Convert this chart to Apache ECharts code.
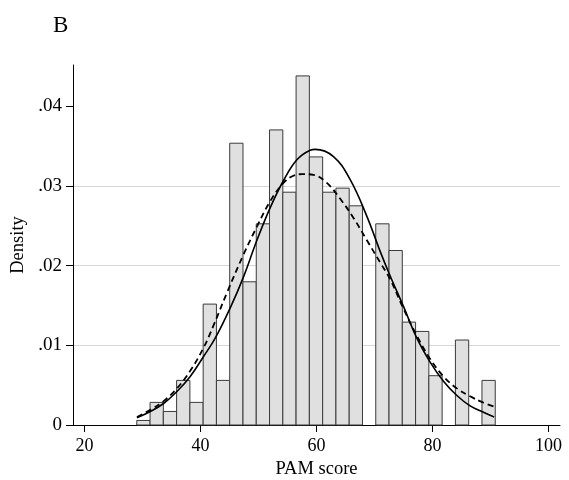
<!DOCTYPE html>
<html>
<head>
<meta charset="utf-8">
<script src="https://cdn.jsdelivr.net/npm/echarts@6/dist/echarts.min.js"></script>
<style>
html,body{margin:0;padding:0;background:#fff;}
#chart{width:569px;height:480px;}
</style>
</head>
<body>
<div id="chart"></div>
<script>
// Histogram bins (PAM score), densities
var binStart = 29.0;
var binWidth = 2.29;
var binDensity = [0.00057, 0.00284, 0.0017, 0.0056, 0.00284, 0.01518, 0.0056, 0.03538, 0.01798,
  0.02526, 0.03705, 0.02923, 0.04383, 0.03366, 0.02923, 0.02974, 0.02752, 0, 0.02526,
  0.02191, 0.01292, 0.01175, 0.00619, 0, 0.01067, 0, 0.0056];

// Solid curve
var solidX = [29.03, 31.33, 33.62, 35.93, 38.22, 40.52, 42.53, 45.12, 47.41, 49.72, 52.02, 54.31,
  56.62, 58.91, 59.78, 62.93, 65.81, 68.69, 70.98, 72.71, 75.0, 77.31, 79.6, 81.9, 84.21, 86.5, 88.79, 90.64];
var solidY = [0.0009, 0.0017, 0.0027, 0.0042, 0.0061, 0.0086, 0.0109, 0.0147, 0.0186, 0.0232, 0.0273, 0.0307,
  0.0333, 0.0345, 0.0346, 0.0337, 0.0308, 0.0262, 0.0218, 0.0187, 0.0149, 0.0109, 0.0079, 0.0055, 0.0037, 0.0024, 0.0016, 0.0010];

// Dashed curve
var dashX = [29.03, 31.33, 33.62, 35.93, 38.22, 40.52, 42.24, 44.55, 47.41, 49.72, 52.02, 54.31, 56.03,
  57.6, 59.48, 61.79, 64.09, 66.38, 68.69, 70.98, 72.71, 75.0, 77.31, 79.6, 81.9, 84.21, 86.5, 88.79, 90.64];
var dashY = [0.0010, 0.0019, 0.0030, 0.0046, 0.0068, 0.0097, 0.0125, 0.0166, 0.0214, 0.0249, 0.0281, 0.0304, 0.0313,
  0.0315, 0.0314, 0.0304, 0.0284, 0.0260, 0.0232, 0.0204, 0.0183, 0.0146, 0.0112, 0.0083, 0.0061, 0.0046, 0.0036, 0.0028, 0.0023];

var xTicks = [20, 40, 60, 80, 100];
var yTicks = [0, 0.01, 0.02, 0.03, 0.04];

var histData = binDensity.map(function (d, i) {
  return [binStart + i * binWidth, binStart + (i + 1) * binWidth, d];
});
function pairs(xs, ys) { return xs.map(function (x, i) { return [x, ys[i]]; }); }

var FONT = 'Liberation Serif';
var chart = echarts.init(document.getElementById('chart'));
chart.setOption({
  backgroundColor: '#fff',
  animation: false,
  title: {
    text: 'B', left: 48, top: 9,
    textStyle: { fontFamily: FONT, fontSize: 23, fontWeight: 'normal', color: '#000' }
  },
  grid: { left: 73, right: 9, top: 65, bottom: 55, containLabel: false, outerBoundsMode: 'none' },
  xAxis: {
    type: 'value', min: 18, max: 102,
    name: 'PAM score', nameLocation: 'middle', nameGap: 32,
    nameTextStyle: { fontFamily: FONT, fontSize: 18.5, color: '#000' },
    axisLine: { show: true, lineStyle: { color: '#000', width: 1 } },
    axisTick: { show: true, length: 7, customValues: xTicks, lineStyle: { color: '#000' } },
    axisLabel: { customValues: xTicks, margin: 12, fontFamily: FONT, fontSize: 18, color: '#000' },
    splitLine: { show: false }
  },
  yAxis: {
    type: 'value', min: 0, max: 0.0452, interval: 0.01,
    name: 'Density', nameLocation: 'middle', nameGap: 44, nameRotate: 90,
    nameTextStyle: { fontFamily: FONT, fontSize: 18.5, color: '#000' },
    axisLine: { show: true, lineStyle: { color: '#000', width: 1 } },
    axisTick: { show: true, length: 7, customValues: yTicks, lineStyle: { color: '#000' } },
    axisLabel: {
      customValues: yTicks, margin: 11, fontFamily: FONT, fontSize: 19, color: '#000',
      formatter: function (v) { return v === 0 ? '0' : v.toFixed(2).replace(/^0/, ''); }
    },
    splitLine: { show: true, showMinLine: false, showMaxLine: false, lineStyle: { color: '#d6d6d6', width: 1 } }
  },
  series: [
    {
      type: 'custom',
      data: histData,
      encode: { x: [0, 1], y: 2 },
      z: 2,
      renderItem: function (params, api) {
        var h = api.value(2);
        if (!h) return null;
        var p0 = api.coord([api.value(0), h]);
        var p1 = api.coord([api.value(1), 0]);
        return {
          type: 'rect',
          shape: { x: p0[0], y: p0[1], width: p1[0] - p0[0], height: p1[1] - p0[1] },
          style: { fill: '#e0e0e0', stroke: '#3a3a3a', lineWidth: 1 }
        };
      }
    },
    {
      type: 'line', data: pairs(dashX, dashY), smooth: 0.4, showSymbol: false, symbol: 'none', z: 3,
      lineStyle: { color: '#000', width: 1.8, type: [6, 4] }
    },
    {
      type: 'line', data: pairs(solidX, solidY), smooth: 0.4, showSymbol: false, symbol: 'none', z: 4,
      lineStyle: { color: '#000', width: 1.6 }
    }
  ]
});
</script>
</body>
</html>
